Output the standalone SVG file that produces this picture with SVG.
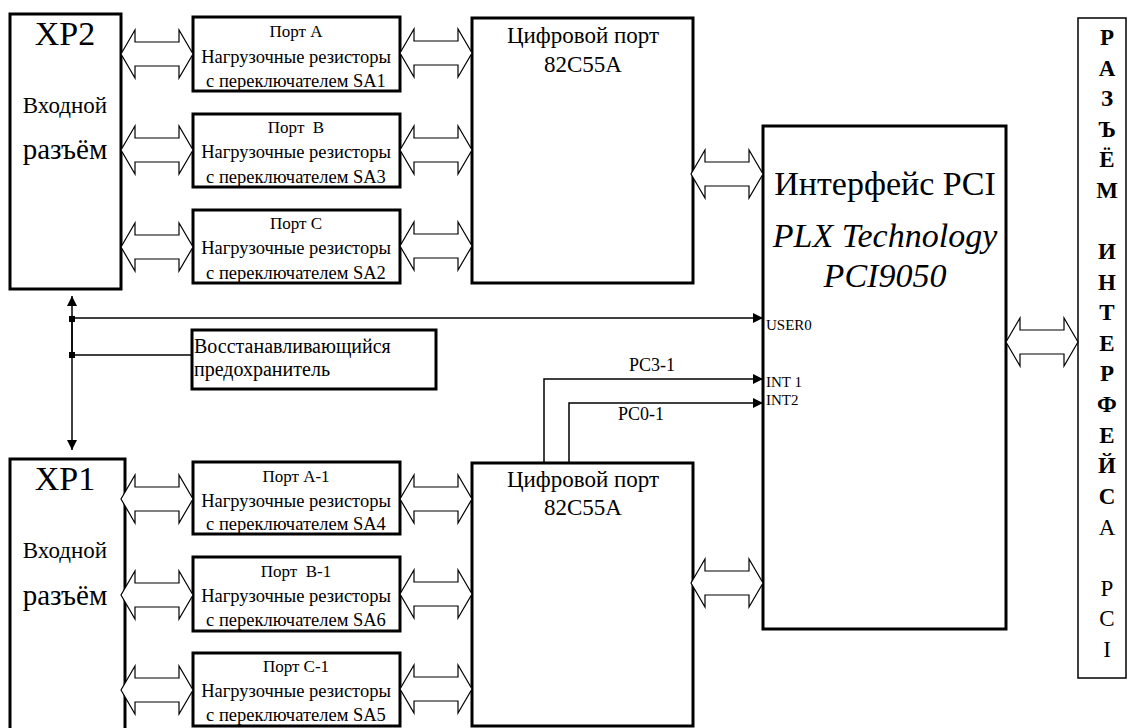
<svg xmlns="http://www.w3.org/2000/svg" xmlns:xlink="http://www.w3.org/1999/xlink" width="1128" height="728" viewBox="0 0 1128 728">
<defs>
<style>
.box{fill:#fff;stroke:#000;stroke-width:3}
.thin{fill:#fff;stroke:#000;stroke-width:1.5}
text{font-family:'Liberation Serif','Times New Roman',Times,serif;fill:#000}
.c{text-anchor:middle}
.ln{fill:none;stroke:#000;stroke-width:1.5}
.dbl{fill:#fff;stroke:#000;stroke-width:1.2}
</style>
<path id="dbl" class="dbl" d="M0,0 L14,-24 L14,-12 L58,-12 L58,-24 L72,0 L58,24 L58,12 L14,12 L14,24 Z"/>
<marker id="ah" viewBox="0 0 10 10" refX="10" refY="5" markerWidth="10" markerHeight="10" markerUnits="userSpaceOnUse" orient="auto">
<path d="M0,0 L10,5 L0,10 Z" fill="#000"/>
</marker>
</defs>
<rect width="1128" height="728" fill="#fff"/>
<g id="xp2">
<rect class="box" x="10" y="14" width="111" height="275"/>
<text class="c" x="65" y="45" font-size="34">XP2</text>
<text class="c" x="65" y="113" font-size="23">Входной</text>
<text class="c" x="65" y="159" font-size="29">разъём</text>
</g>
<g id="xp1">
<rect class="box" x="10" y="459" width="115" height="290"/>
<text class="c" x="65" y="490" font-size="34">XP1</text>
<text class="c" x="65" y="558" font-size="23">Входной</text>
<text class="c" x="65" y="605" font-size="29">разъём</text>
</g>

<g id="portA">
<rect class="box" x="193" y="17" width="207" height="74"/>
<text class="c" x="296" y="37" font-size="17">Порт A</text>
<text class="c" x="296" y="63" font-size="18.5">Нагрузочные резисторы</text>
<text class="c" x="296" y="87" font-size="18.5">с переключателем SA1</text>
</g>
<g id="portB">
<rect class="box" x="193" y="114" width="207" height="73"/>
<text class="c" x="296" y="133" font-size="17" xml:space="preserve">Порт  B</text>
<text class="c" x="296" y="158" font-size="18.5">Нагрузочные резисторы</text>
<text class="c" x="296" y="183" font-size="18.5">с переключателем SA3</text>
</g>
<g id="portC">
<rect class="box" x="193" y="210" width="207" height="73"/>
<text class="c" x="296" y="229" font-size="17">Порт C</text>
<text class="c" x="296" y="254" font-size="18.5">Нагрузочные резисторы</text>
<text class="c" x="296" y="279" font-size="18.5">с переключателем SA2</text>
</g>

<g id="portA1">
<rect class="box" x="193" y="462" width="207" height="72"/>
<text class="c" x="296" y="482" font-size="17">Порт A-1</text>
<text class="c" x="296" y="507" font-size="18.5">Нагрузочные резисторы</text>
<text class="c" x="296" y="530" font-size="18.5">с переключателем SA4</text>
</g>
<g id="portB1">
<rect class="box" x="193" y="557" width="207" height="74"/>
<text class="c" x="296" y="577" font-size="17" xml:space="preserve">Порт  B-1</text>
<text class="c" x="296" y="602" font-size="18.5">Нагрузочные резисторы</text>
<text class="c" x="296" y="626" font-size="18.5">с переключателем SA6</text>
</g>
<g id="portC1">
<rect class="box" x="193" y="653" width="207" height="73"/>
<text class="c" x="296" y="672" font-size="17">Порт C-1</text>
<text class="c" x="296" y="697" font-size="18.5">Нагрузочные резисторы</text>
<text class="c" x="296" y="721" font-size="18.5">с переключателем SA5</text>
</g>

<g id="dp1">
<rect class="box" x="472" y="18" width="221" height="265"/>
<text class="c" x="583" y="43" font-size="23">Цифровой порт</text>
<text class="c" x="583" y="72" font-size="23">82C55A</text>
</g>
<g id="dp2">
<rect class="box" x="472" y="463" width="221" height="263"/>
<text class="c" x="583" y="487" font-size="23">Цифровой порт</text>
<text class="c" x="583" y="515" font-size="23">82C55A</text>
</g>

<g id="pci">
<rect class="box" x="763" y="126" width="243" height="503"/>
<text class="c" x="885" y="195" font-size="34">Интерфейс PCI</text>
<text class="c" x="885" y="247" font-size="34" font-style="italic">PLX Technology</text>
<text class="c" x="885" y="287" font-size="34" font-style="italic">PCI9050</text>
<text x="766" y="330" font-size="15">USER0</text>
<text x="766" y="387" font-size="15">INT 1</text>
<text x="766" y="405" font-size="15">INT2</text>
</g>

<g id="fuse">
<rect class="box" x="192" y="330" width="244" height="59"/>
<text x="194" y="353" font-size="20">Восстанавливающийся</text>
<text x="194" y="376" font-size="20">предохранитель</text>
</g>

<g id="pciconn">
<rect class="thin" x="1078" y="18" width="48" height="660"/>
<text class="c" font-size="23" font-weight="bold">
<tspan x="1107" y="45">Р</tspan><tspan x="1107" y="76">А</tspan><tspan x="1107" y="106">З</tspan><tspan x="1107" y="137">Ъ</tspan><tspan x="1107" y="167">Ё</tspan><tspan x="1107" y="198">М</tspan><tspan x="1107" y="259">И</tspan><tspan x="1107" y="290">Н</tspan><tspan x="1107" y="320">Т</tspan><tspan x="1107" y="351">Е</tspan><tspan x="1107" y="381">Р</tspan><tspan x="1107" y="412">Ф</tspan><tspan x="1107" y="443">Е</tspan><tspan x="1107" y="473">Й</tspan><tspan x="1107" y="504">С</tspan>
</text>
<text class="c" font-size="23">
<tspan x="1107" y="535">А</tspan><tspan x="1107" y="596">Р</tspan><tspan x="1107" y="626">С</tspan><tspan x="1107" y="657">I</tspan>
</text>
</g>

<g id="connectors">
<use xlink:href="#dbl" x="121" y="54"/>
<use xlink:href="#dbl" x="121" y="150"/>
<use xlink:href="#dbl" x="121" y="247"/>
<use xlink:href="#dbl" x="400" y="53"/>
<use xlink:href="#dbl" x="400" y="150"/>
<use xlink:href="#dbl" x="400" y="246"/>
<use xlink:href="#dbl" x="121" y="499"/>
<use xlink:href="#dbl" x="121" y="595"/>
<use xlink:href="#dbl" x="121" y="690"/>
<use xlink:href="#dbl" x="400" y="499"/>
<use xlink:href="#dbl" x="400" y="594"/>
<use xlink:href="#dbl" x="400" y="689"/>
<use xlink:href="#dbl" x="691" y="174"/>
<use xlink:href="#dbl" x="691" y="583"/>
<use xlink:href="#dbl" x="1006" y="342"/>
<line class="ln" x1="72" y1="355" x2="72" y2="296" marker-end="url(#ah)"/>
<line class="ln" x1="72" y1="319" x2="72" y2="450" marker-end="url(#ah)"/>
<line class="ln" x1="72" y1="318" x2="763" y2="318" marker-end="url(#ah)"/>
<line class="ln" x1="72" y1="355" x2="192" y2="355"/>
<polyline class="ln" points="544,462 544,379 763,379" marker-end="url(#ah)"/>
<polyline class="ln" points="569,462 569,403 763,403" marker-end="url(#ah)"/>
<rect x="69" y="316" width="6" height="6" fill="#000"/>
<rect x="69" y="352" width="6" height="6" fill="#000"/>
<text class="c" x="652" y="371" font-size="18">PC3-1</text>
<text class="c" x="641" y="420" font-size="18">PC0-1</text>
</g>
</svg>
